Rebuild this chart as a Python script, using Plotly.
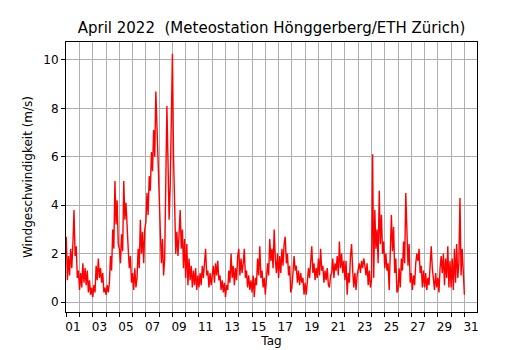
import plotly.graph_objects as go

# Wind speed (m/s) at 2-hour steps (12 values per day)
week1 = [
    [2.7, 0.9, 1.9, 1.1, 2.2, 1.4, 2.4, 3.8, 1.9, 2.3, 1.0, 1.3],   # 1
    [0.5, 1.2, 0.6, 1.6, 0.8, 1.4, 0.7, 1.3, 0.4, 0.9, 0.3, 0.6],   # 2
    [0.2, 0.7, 0.4, 1.5, 0.9, 1.8, 1.0, 1.4, 0.8, 1.2, 0.4, 0.6],   # 3
    [0.3, 0.7, 0.4, 0.8, 1.9, 1.3, 3.0, 2.2, 5.0, 3.2, 4.2, 2.4],   # 4
    [2.2, 1.6, 2.8, 2.1, 5.0, 3.4, 4.1, 2.7, 2.2, 1.4, 1.9, 0.8],   # 5
    [1.2, 0.5, 1.4, 0.6, 1.0, 2.2, 1.4, 3.4, 2.0, 2.9, 1.6, 3.0],   # 6
    [3.3, 4.5, 3.6, 5.2, 4.6, 6.2, 5.4, 7.1, 6.0, 8.7, 7.2, 5.6],   # 7
]
week2 = [
    [4.4, 3.0, 1.6, 2.6, 1.1, 1.8, 4.5, 8.1, 5.8, 3.4, 4.8, 7.0],   # 8
    [10.25, 6.0, 3.2, 2.0, 2.9, 1.9, 2.8, 3.8, 2.2, 3.0, 1.4, 2.6], # 9
    [1.0, 2.4, 0.7, 1.8, 0.9, 1.5, 0.6, 1.3, 0.7, 1.4, 0.5, 1.1],   # 10
    [0.6, 1.2, 0.7, 1.5, 1.0, 1.8, 2.2, 1.1, 1.3, 0.6, 1.2, 0.7],   # 11
    [1.0, 1.5, 0.8, 1.6, 1.1, 1.7, 0.9, 1.1, 0.5, 0.9, 0.4, 0.8],   # 12
    [0.2, 0.7, 0.5, 1.3, 0.8, 2.0, 1.0, 1.5, 0.7, 1.4, 0.9, 1.9],   # 13
    [2.2, 1.1, 1.8, 1.2, 1.6, 2.2, 1.0, 1.3, 0.6, 1.1, 0.5, 0.9],   # 14
]
week3 = [
    [0.4, 1.1, 0.2, 1.0, 0.7, 1.8, 1.1, 2.3, 1.0, 1.3, 0.6, 1.0],   # 15
    [0.3, 0.9, 1.6, 1.1, 2.6, 1.7, 2.2, 1.4, 3.0, 1.8, 1.2, 2.0],   # 16
    [1.0, 1.9, 1.2, 2.2, 1.5, 2.4, 2.7, 1.6, 2.0, 1.1, 1.5, 0.4],   # 17
    [0.6, 1.2, 1.9, 1.3, 1.5, 0.8, 1.3, 0.7, 1.2, 0.8, 1.0, 0.3],   # 18
    [0.8, 0.3, 0.9, 1.4, 1.0, 1.7, 2.3, 1.2, 1.6, 0.9, 1.4, 1.0],   # 19
    [1.8, 1.1, 2.2, 1.3, 1.5, 0.8, 1.3, 0.9, 1.4, 0.7, 0.6, 1.1],   # 20
    [1.2, 1.8, 1.0, 1.6, 1.3, 1.9, 1.1, 2.5, 1.4, 2.0, 1.2, 1.7],   # 21
]
week4 = [
    [0.9, 1.7, 0.3, 1.2, 0.8, 1.9, 2.4, 1.3, 0.6, 1.2, 0.5, 1.1],   # 22
    [1.3, 1.6, 1.2, 1.7, 1.4, 1.8, 1.5, 1.1, 1.6, 0.7, 1.3, 0.6],   # 23
    [0.9, 6.1, 1.0, 3.8, 2.2, 3.0, 1.6, 4.6, 2.4, 3.6, 2.0, 2.5],   # 24
    [1.4, 2.0, 1.3, 1.6, 0.5, 2.2, 3.6, 2.1, 3.1, 1.2, 1.8, 0.4],   # 25
    [0.5, 1.4, 0.6, 1.8, 1.3, 2.5, 1.6, 4.5, 2.6, 1.5, 2.4, 0.8],   # 26
    [1.2, 0.5, 1.1, 0.7, 1.6, 2.0, 1.7, 2.2, 1.2, 1.5, 0.6, 1.3],   # 27
    [0.6, 1.2, 0.5, 1.0, 0.7, 1.3, 2.3, 1.4, 1.0, 0.5, 1.2, 0.6],   # 28
]
week5 = [
    [1.0, 0.4, 1.4, 1.9, 1.2, 2.0, 0.7, 1.8, 1.0, 2.3, 0.6, 1.7],   # 29
    [0.6, 1.8, 0.5, 2.2, 0.8, 2.4, 1.0, 1.6, 4.3, 1.1, 2.2, 0.9],   # 30
    [0.3],                                                         # May 1, 00:00
]

steps_per_day = 12
first_day = 1
tick_days = list(range(1, 32))
label_days = list(range(1, 32, 2))
label_text = ["%02d" % d for d in label_days]
label_pos = [d + 0.5 for d in label_days]   # labels sit at midday

values = [v for week in (week1, week2, week3, week4, week5) for day in week for v in day]
times = [first_day + i / steps_per_day for i in range(len(values))]

xr = [0.98, 31.95]
font = "DejaVu Sans"
grid = "#b0b0b0"

fig = go.Figure()
fig.add_trace(go.Scatter(x=times, y=values, mode="lines",
                         line=dict(color="red", width=1.4), showlegend=False,
                         hoverinfo="skip"))
# invisible trace to activate the label axis
fig.add_trace(go.Scatter(x=[xr[0]], y=[0], xaxis="x2", mode="markers",
                         marker=dict(opacity=0), showlegend=False, hoverinfo="skip"))

fig.update_layout(
    width=530, height=350,
    margin=dict(l=66, r=53, t=42, b=38, autoexpand=False),
    paper_bgcolor="white", plot_bgcolor="white",
    font=dict(family=font, size=12, color="black"),
    title=dict(text="April 2022  (Meteostation Hönggerberg/ETH Zürich)",
               x=(66 + 477) / 2 / 530, xanchor="center",
               y=1 - 28 / 350, yanchor="middle",
               font=dict(size=15, family=font, color="black")),
    xaxis=dict(range=xr, tickvals=tick_days, ticktext=[""] * len(tick_days),
               ticks="outside", ticklen=4, tickcolor="black", tickwidth=1,
               showgrid=True, gridcolor=grid, gridwidth=1,
               showline=True, linecolor="black", linewidth=1, mirror=True,
               zeroline=False, automargin=False),
    xaxis2=dict(range=xr, overlaying="x", side="bottom", anchor="y",
                tickvals=label_pos, ticktext=label_text,
                ticks="outside", ticklen=4, tickcolor="rgba(0,0,0,0)",
                showgrid=False, showline=False, zeroline=False,
                tickfont=dict(size=12), automargin=False,
                title=dict(text="Tag", standoff=3, font=dict(size=12))),
    yaxis=dict(range=[-0.41, 10.74], tickvals=[0, 2, 4, 6, 8, 10],
               ticks="outside", ticklen=4, tickcolor="black", tickwidth=1,
               showgrid=True, gridcolor=grid, gridwidth=1,
               showline=True, linecolor="black", linewidth=1, mirror=True,
               zeroline=False, tickfont=dict(size=12), automargin=False,
               title=dict(text="Windgeschwindigkeit (m/s)", standoff=8,
                          font=dict(size=12))),
)

fig.write_html("out.html", config={"displayModeBar": False},
               post_script="document.body.style.margin='0px';document.body.style.padding='0px';")
